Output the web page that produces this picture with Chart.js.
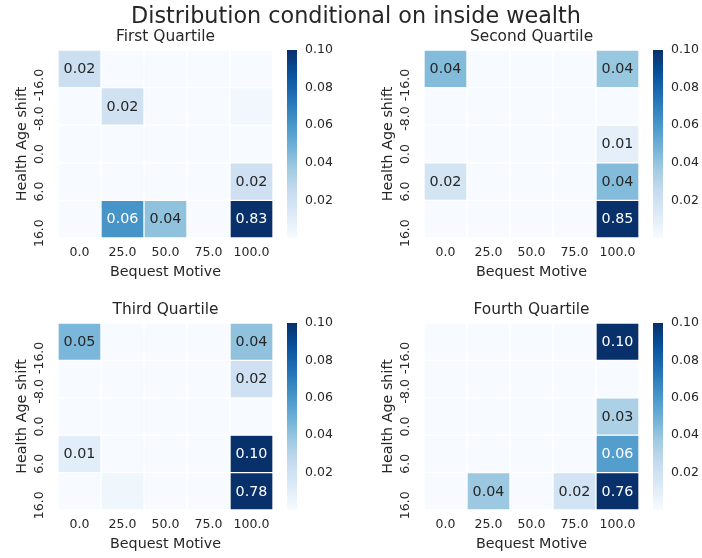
<!DOCTYPE html>
<html>
<head>
<meta charset="utf-8">
<title>Distribution conditional on inside wealth</title>
<script src="https://cdn.jsdelivr.net/npm/chart.js@4"></script>
<style>
  html, body { margin: 0; padding: 0; background: #fff; }
  #wrap { position: relative; width: 702px; height: 558px; }
  #wrap canvas { position: absolute; left: 0; top: 0; }
</style>
</head>
<body>
<div id="wrap">
  <canvas id="q1" width="702" height="558"></canvas>
  <canvas id="q2" width="702" height="558"></canvas>
  <canvas id="q3" width="702" height="558"></canvas>
  <canvas id="q4" width="702" height="558"></canvas>
</div>
<script>
/* ── Data ───────────────────────────────────────────────── */
const bequest      = ['0.0', '25.0', '50.0', '75.0', '100.0'];
const healthShift  = ['-16.0', '-8.0', '0.0', '6.0', '16.0'];   // rows, top to bottom
const colorbarMax  = 0.10;
const colorbarStep = 0.02;

const firstQuartile = [
  [0.022, 0,     0,     0,     0    ],
  [0,     0.020, 0,     0,     0.003],
  [0,     0,     0,     0,     0    ],
  [0,     0,     0,     0,     0.021],
  [0,     0.061, 0.041, 0,     0.83 ]
];
const secondQuartile = [
  [0.044, 0, 0, 0, 0.039],
  [0,     0, 0, 0, 0    ],
  [0,     0, 0, 0, 0.009],
  [0.018, 0, 0, 0, 0.044],
  [0,     0, 0, 0, 0.85 ]
];
const thirdQuartile = [
  [0.046, 0,     0, 0, 0.041],
  [0,     0,     0, 0, 0.021],
  [0,     0,     0, 0, 0    ],
  [0.011, 0,     0, 0, 0.10 ],
  [0,     0.004, 0, 0, 0.78 ]
];
const fourthQuartile = [
  [0, 0,     0, 0,     0.10 ],
  [0, 0,     0, 0,     0    ],
  [0, 0,     0, 0,     0.033],
  [0, 0,     0, 0,     0.057],
  [0, 0.038, 0, 0.019, 0.76 ]
];

/* ── Style ──────────────────────────────────────────────── */
const FONT  = '"DejaVu Sans", sans-serif';
const TEXT  = '#262626';
const CB_W  = 60;   // colorbar axis box
const XAX_H = 45;   // x axis box

// matplotlib "Blues"
const BLUES = [
  [247, 251, 255], [222, 235, 247], [198, 219, 239], [158, 202, 225], [107, 174, 214],
  [66, 146, 198], [33, 113, 181], [8, 81, 156], [8, 48, 107]
];

function blues(t) {
  t = Math.max(0, Math.min(1, t));
  const p = t * 8;
  const i = Math.min(7, Math.floor(p));
  const f = p - i;
  const a = BLUES[i], b = BLUES[i + 1];
  return a.map((v, k) => v + (b[k] - v) * f);
}

function rgb(c) {
  return `rgb(${c.map(Math.round).join(',')})`;
}

// seaborn picks dark or white annotation text from the cell luminance
function luminance(c) {
  const lin = c.map(v => {
    v /= 255;
    return v <= 0.03928 ? v / 12.92 : Math.pow((v + 0.055) / 1.055, 2.4);
  });
  return 0.2126 * lin[0] + 0.7152 * lin[1] + 0.0722 * lin[2];
}

/* ── Heatmap extras: titles, y labels, colorbar, annotations ── */
const heatPlugin = {
  id: 'heat',
  afterDraw(chart, args, opts) {
    const { ctx, chartArea: a, scales } = chart;
    ctx.save();
    ctx.fillStyle = TEXT;

    if (opts.suptitle) {
      ctx.font = `22.3px ${FONT}`;
      ctx.textAlign = 'center';
      ctx.textBaseline = 'alphabetic';
      ctx.fillText(opts.suptitle, 356, 23.3);
    }

    ctx.font = `15.4px ${FONT}`;
    ctx.textAlign = 'center';
    ctx.textBaseline = 'alphabetic';
    ctx.fillText(opts.title, (a.left + a.right) / 2, a.top - 9.5);

    // rotated row labels, end of text at row centre
    ctx.font = `12.5px ${FONT}`;
    healthShift.forEach((lab, i) => {
      const y = scales.y.getPixelForValue(i + 0.5);
      ctx.save();
      ctx.translate(a.left - 18, y);
      ctx.rotate(-Math.PI / 2);
      ctx.textAlign = 'right';
      ctx.textBaseline = 'middle';
      ctx.fillText(lab, 0, 0);
      ctx.restore();
    });

    ctx.font = `14.3px ${FONT}`;
    ctx.save();
    ctx.translate(a.left - 36, (a.top + a.bottom) / 2);
    ctx.rotate(-Math.PI / 2);
    ctx.textAlign = 'center';
    ctx.textBaseline = 'middle';
    ctx.fillText('Health Age shift', 0, 0);
    ctx.restore();

    // colorbar
    const cb = scales.cb;
    const top = cb.getPixelForValue(colorbarMax);
    const bot = cb.getPixelForValue(0);
    const g = ctx.createLinearGradient(0, bot, 0, top);
    BLUES.forEach((c, i) => g.addColorStop(i / 8, rgb(c)));
    ctx.fillStyle = g;
    ctx.fillRect(a.right + 14, top, 10, bot - top);

    // cell annotations
    ctx.font = `14.3px ${FONT}`;
    ctx.textAlign = 'center';
    ctx.textBaseline = 'middle';
    chart.data.datasets.forEach((ds, r) => {
      chart.getDatasetMeta(r).data.forEach((el, c) => {
        const v = opts.values[r][c];
        const txt = v.toFixed(2);
        if (txt === '0.00') return;
        const col = blues(v / colorbarMax);
        ctx.fillStyle = luminance(col) > 0.408 ? TEXT : '#ffffff';
        const p = el.getCenterPoint();
        ctx.fillText(txt, p.x, p.y + 0.5);
      });
    });
    ctx.restore();
  }
};

function heatDatasets(values) {
  return healthShift.map((lab, r) => ({
    label: lab,
    data: bequest.map(() => [r, r + 1]),
    backgroundColor: values[r].map(v => rgb(blues(v / colorbarMax))),
    borderColor: '#ffffff',
    borderWidth: 1,
    borderSkipped: false,
    barPercentage: 1,
    categoryPercentage: 1,
    grouped: false
  }));
}

function makePanel(id, title, values, box, suptitle) {
  return new Chart(document.getElementById(id), {
    type: 'bar',
    data: { labels: bequest, datasets: heatDatasets(values) },
    options: {
      responsive: false,
      animation: false,
      events: [],
      layout: {
        padding: {
          left: box.left,
          top: box.top,
          right: 702 - box.right - CB_W,
          bottom: 558 - box.bottom - XAX_H
        }
      },
      plugins: {
        legend: { display: false },
        tooltip: { enabled: false },
        heat: { title, values, suptitle }
      },
      scales: {
        x: {
          grid: { display: false, drawTicks: false },
          border: { display: false },
          ticks: { color: TEXT, font: { family: FONT, size: 12.5 }, padding: 7, maxRotation: 0 },
          title: {
            display: true, text: 'Bequest Motive', color: TEXT,
            font: { family: FONT, size: 14.3 }, padding: { top: 0, bottom: 2.4 }
          },
          afterFit(s) { s.height = XAX_H; }
        },
        y: { display: false, min: 0, max: healthShift.length, reverse: true },
        cb: {
          position: 'right',
          min: 0, max: colorbarMax,
          grid: { display: false, drawTicks: false },
          border: { display: false },
          ticks: {
            stepSize: colorbarStep, padding: 32, color: TEXT,
            font: { family: FONT, size: 12.5 },
            callback: v => (v === 0 ? '' : v.toFixed(2))
          },
          afterFit(s) { s.width = CB_W; }
        }
      }
    },
    plugins: [heatPlugin]
  });
}

/* ── Init ───────────────────────────────────────────────── */
makePanel('q1', 'First Quartile',  firstQuartile,  { left: 58,  right: 273, top: 50,  bottom: 238 },
          'Distribution conditional on inside wealth');
makePanel('q2', 'Second Quartile', secondQuartile, { left: 424, right: 639, top: 50,  bottom: 238 });
makePanel('q3', 'Third Quartile',  thirdQuartile,  { left: 58,  right: 273, top: 323, bottom: 510 });
makePanel('q4', 'Fourth Quartile', fourthQuartile, { left: 424, right: 639, top: 323, bottom: 510 });
</script>
</body>
</html>
